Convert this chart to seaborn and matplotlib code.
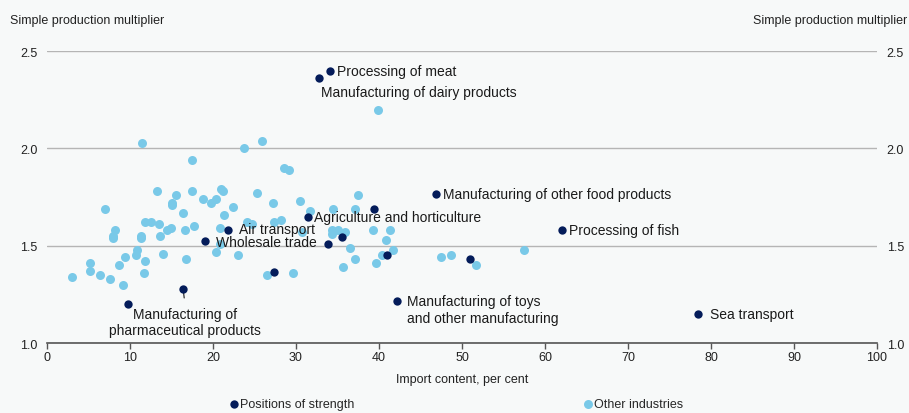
import matplotlib
matplotlib.use("Agg")
import matplotlib.pyplot as plt
import seaborn as sns
import pandas as pd

# other industries (light blue)
other_x = [3.0, 5.2, 5.2, 6.4, 7.6, 9.1, 8.7, 9.4, 10.9, 10.7, 11.8, 11.7, 14.0, 16.8,
           7.0, 8.2, 7.9, 8.0, 11.3, 11.3, 11.8, 12.5, 13.5, 13.6, 14.5, 14.9, 13.3, 15.5,
           15.1, 15.1, 17.5, 16.4, 16.6, 17.7, 17.5, 11.4, 21.0, 21.2, 25.3, 18.8, 19.7,
           20.4, 22.4, 27.2, 30.5, 21.3, 31.7, 28.6, 29.2, 25.9, 23.7, 20.8, 24.1, 24.7,
           27.4, 28.2, 30.7, 20.8, 20.4, 23.0, 26.5, 29.6, 37.5, 34.5, 37.1, 34.3, 35.1,
           35.9, 34.3, 39.3, 41.3, 40.9, 36.5, 41.7, 40.4, 37.1, 39.6, 35.7, 47.5, 48.7,
           51.7, 57.5, 39.9]
other_y = [1.34, 1.41, 1.37, 1.35, 1.33, 1.30, 1.40, 1.44, 1.48, 1.45, 1.42, 1.36, 1.46, 1.43,
           1.69, 1.58, 1.55, 1.54, 1.54, 1.55, 1.62, 1.62, 1.61, 1.55, 1.58, 1.59, 1.78, 1.76,
           1.72, 1.71, 1.78, 1.67, 1.58, 1.60, 1.94, 2.03, 1.79, 1.78, 1.77, 1.74, 1.72,
           1.74, 1.70, 1.72, 1.73, 1.66, 1.68, 1.90, 1.89, 2.04, 2.00, 1.59, 1.62, 1.61,
           1.62, 1.63, 1.57, 1.51, 1.47, 1.45, 1.35, 1.36, 1.76, 1.69, 1.69, 1.58, 1.58,
           1.57, 1.56, 1.58, 1.58, 1.53, 1.49, 1.48, 1.45, 1.43, 1.41, 1.39, 1.44, 1.45,
           1.40, 1.48, 2.20]

# positions of strength (dark blue)
strength_x = [34.1, 32.8, 46.9, 31.5, 39.4, 21.8, 19.0, 35.5, 33.8, 41.0, 51.0, 62.0,
              27.3, 16.4, 9.8, 42.2, 78.4]
strength_y = [2.40, 2.36, 1.765, 1.65, 1.69, 1.58, 1.525, 1.545, 1.51, 1.45, 1.43, 1.58,
              1.365, 1.28, 1.20, 1.215, 1.15]
strength_labels = ["Processing of meat", "Manufacturing of dairy products",
                   "Manufacturing of other food products", "Agriculture and horticulture",
                   None, "Air transport", "Wholesale trade", None, None, None, None,
                   "Processing of fish", None, "Manufacturing of\npharmaceutical products",
                   None, "Manufacturing of toys\nand other manufacturing", "Sea transport"]

# label offsets in points relative to the point
label_offsets = {
    "Processing of meat": (5, 0),
    "Manufacturing of dairy products": (1.5, -9.5),
    "Manufacturing of other food products": (5, 0),
    "Agriculture and horticulture": (4, 0),
    "Air transport": (8, 0.5),
    "Wholesale trade": (8, -0.5),
    "Processing of fish": (5, 0),
    "Manufacturing of toys\nand other manufacturing": (7, -6),
    "Sea transport": (8.5, 0),
}

bg = "#f7f9f9"
dark = "#041c5a"
light = "#79c9e8"

other = pd.DataFrame({"import_content": other_x, "multiplier": other_y})
strength = pd.DataFrame({"import_content": strength_x, "multiplier": strength_y,
                         "label": strength_labels})

sns.set_theme(style="white")
plt.rcParams["font.family"] = ["Liberation Sans", "DejaVu Sans"]

fig, ax = plt.subplots(figsize=(9.09, 4.14), dpi=100)
fig.patch.set_facecolor(bg)
ax.set_facecolor(bg)
fig.subplots_adjust(left=0.0517, right=0.9648, bottom=0.169, top=0.874)

sns.scatterplot(data=other, x="import_content", y="multiplier", color=light, s=42,
                linewidth=0, ax=ax, zorder=3, label="Other industries", legend=False)
sns.scatterplot(data=strength, x="import_content", y="multiplier", color=dark, s=36,
                linewidth=0, ax=ax, zorder=4, label="Positions of strength", legend=False)

for _, row in strength.dropna(subset=["label"]).iterrows():
    if row["label"].startswith("Manufacturing of\npharma"):
        ax.annotate(row["label"], xy=(row["import_content"], row["multiplier"]),
                    xytext=(1.5, -24), textcoords="offset points", ha="center", va="center",
                    fontsize=10, color="#1a1a1a", multialignment="center",
                    arrowprops=dict(arrowstyle="-", color="#1a1a1a", lw=0.8,
                                    relpos=(0.5, 1), shrinkA=4, shrinkB=3))
    else:
        ax.annotate(row["label"], xy=(row["import_content"], row["multiplier"]),
                    xytext=label_offsets[row["label"]], textcoords="offset points",
                    ha="left", va="center", fontsize=10, color="#1a1a1a")

ax.set_xlim(0, 100)
ax.set_ylim(1.0, 2.5001)
ax.set_xticks(range(0, 101, 10))
ax.set_yticks([1.0, 1.5, 2.0, 2.5])
ax.set_yticklabels(["1.0", "1.5", "2.0", "2.5"])
ax.yaxis.grid(True, color="#b5b5b5", lw=1)
ax.xaxis.grid(False)
ax.set_axisbelow(True)

for side in ["top", "left", "right"]:
    ax.spines[side].set_visible(False)
ax.spines["bottom"].set_color("#555555")
ax.spines["bottom"].set_linewidth(1.2)

ax.tick_params(axis="x", bottom=True, direction="out", length=4, width=1, color="#555555",
               labelsize=9, labelcolor="#222222", pad=2)
ax.tick_params(axis="y", left=False, right=False, length=0, labelleft=True, labelright=True,
               labelsize=9, labelcolor="#222222", pad=7)

ax.set_xlabel("Import content, per cent", fontsize=9, color="#222222", labelpad=7)
ax.set_ylabel("")

fig.text(10 / 909, 1 - 21 / 414, "Simple production multiplier", ha="left", va="center",
         fontsize=9, color="#222222")
fig.text(907 / 909, 1 - 21 / 414, "Simple production multiplier", ha="right", va="center",
         fontsize=9, color="#222222")

handles, labels = ax.get_legend_handles_labels()
hmap = dict(zip(labels, handles))
fig.legend([hmap["Positions of strength"]], ["Positions of strength"],
           loc="center left", bbox_to_anchor=(223.5 / 909, 1 - 405 / 414),
           frameon=False, borderpad=0, handlelength=0.6, handletextpad=0.2,
           fontsize=9)
fig.legend([hmap["Other industries"]], ["Other industries"],
           loc="center left", bbox_to_anchor=(577.5 / 909, 1 - 405 / 414),
           frameon=False, borderpad=0, handlelength=0.6, handletextpad=0.2,
           fontsize=9)

fig.savefig("out.png", dpi=100, facecolor=bg)
